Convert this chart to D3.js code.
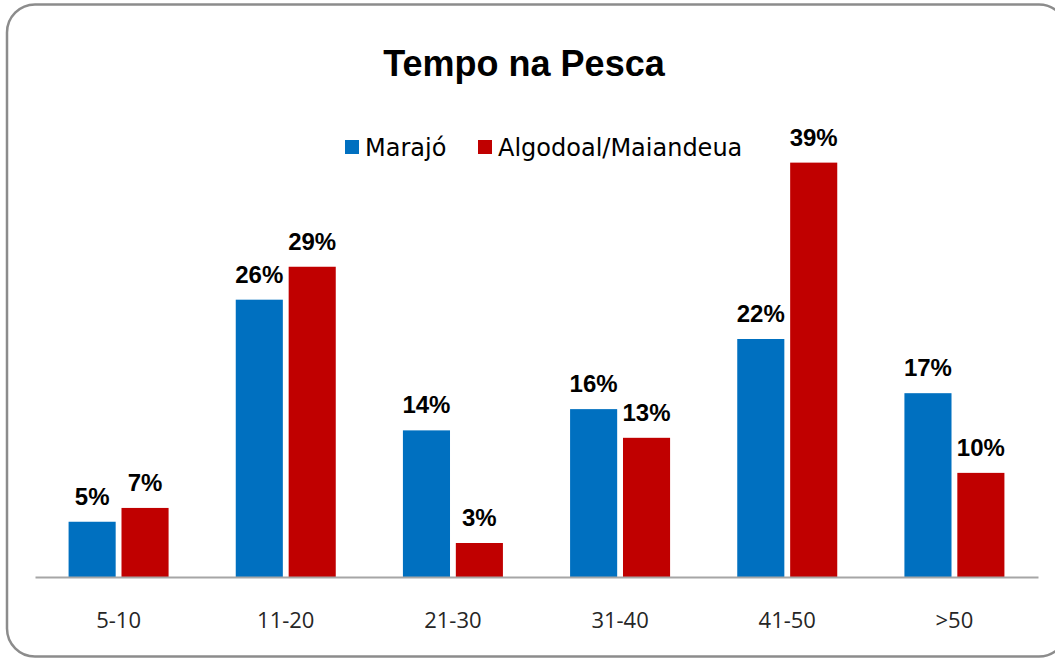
<!DOCTYPE html>
<html>
<head>
<meta charset="utf-8">
<script src="https://cdn.jsdelivr.net/npm/d3@7"></script>
<style>
  body { margin: 0; background: #fff; }
</style>
</head>
<body>
<div id="chart"></div>
<script>
const categories = ["5-10", "11-20", "21-30", "31-40", "41-50", ">50"];
const seriesNames = ["Marajó", "Algodoal/Maiandeua"];
const marajo = [5.2, 26.1, 13.8, 15.8, 22.4, 17.3];
const algodoal = [6.5, 29.2, 3.2, 13.1, 39, 9.8];
const colors = ["#0070C0", "#C00000"];

const width = 1055;
const height = 660;
const margin = { top: 152, right: 17, bottom: 83, left: 35 };
const innerWidth = width - margin.left - margin.right;
const innerHeight = height - margin.top - margin.bottom;

const svg = d3
  .select("#chart")
  .append("svg")
  .attr("width", width)
  .attr("height", height);

// rounded frame
svg
  .append("rect")
  .attr("x", 7)
  .attr("y", 4.5)
  .attr("width", 1060)
  .attr("height", 652)
  .attr("rx", 28)
  .attr("fill", "#fff")
  .attr("stroke", "#8c8c8c")
  .attr("stroke-width", 2.5);

svg
  .append("text")
  .attr("x", 524)
  .attr("y", 76)
  .attr("text-anchor", "middle")
  .attr("font-family", "Liberation Sans, Arial, sans-serif")
  .attr("font-weight", "bold")
  .attr("font-size", 36)
  .text("Tempo na Pesca");

const g = svg
  .append("g")
  .attr("transform", "translate(" + margin.left + "," + margin.top + ")");

const xScale = d3.scaleBand().domain(categories).range([0, innerWidth]);
const xInner = d3
  .scaleBand()
  .domain([0, 1])
  .range([xScale.bandwidth() / 2 - 50, xScale.bandwidth() / 2 + 50])
  .paddingInner(0.11);
const yScale = d3.scaleLinear().domain([0, 40]).range([innerHeight, 0]);

const rows = categories.map(function(c, i) {
  return { cat: c, vals: [marajo[i], algodoal[i]] };
});

const groups = g
  .selectAll(".cat")
  .data(rows)
  .enter()
  .append("g")
  .attr("class", "cat")
  .attr("transform", function(d) {
    return "translate(" + xScale(d.cat) + ",0)";
  });

groups
  .selectAll("rect")
  .data(function(d) {
    return d.vals;
  })
  .enter()
  .append("rect")
  .attr("x", function(d, i) {
    return xInner(i);
  })
  .attr("y", function(d) {
    return yScale(d);
  })
  .attr("width", xInner.bandwidth())
  .attr("height", function(d) {
    return innerHeight - yScale(d);
  })
  .attr("fill", function(d, i) {
    return colors[i];
  });

groups
  .selectAll("text")
  .data(function(d) {
    return d.vals;
  })
  .enter()
  .append("text")
  .attr("x", function(d, i) {
    return xInner(i) + xInner.bandwidth() / 2;
  })
  .attr("y", function(d) {
    return yScale(d) - 17;
  })
  .attr("text-anchor", "middle")
  .attr("font-family", "Liberation Sans, Arial, sans-serif")
  .attr("font-weight", "bold")
  .attr("font-size", 24)
  .text(function(d) {
    return Math.round(d) + "%";
  });

// x axis
const xAxis = d3.axisBottom(xScale).tickSize(0).tickPadding(35);
const xAxisGroup = g
  .append("g")
  .attr("transform", "translate(0," + innerHeight + ")")
  .call(xAxis);
xAxisGroup.select(".domain").attr("stroke", "#a6a6a6").attr("stroke-width", 2);
xAxisGroup
  .selectAll("text")
  .attr("font-family", "Open Sans, sans-serif")
  .attr("font-size", 22)
  .attr("fill", "#262626");

// legend
const legendX = [345, 478];
const legend = svg
  .selectAll(".legend")
  .data(seriesNames)
  .enter()
  .append("g")
  .attr("class", "legend")
  .attr("transform", function(d, i) {
    return "translate(" + legendX[i] + ",140)";
  });
legend
  .append("rect")
  .attr("width", 14)
  .attr("height", 14)
  .attr("fill", function(d, i) {
    return colors[i];
  });
legend
  .append("text")
  .attr("x", 20)
  .attr("y", 16)
  .attr("font-family", "DejaVu Sans, sans-serif")
  .attr("font-size", 24)
  .text(function(d) {
    return d;
  });
</script>
</body>
</html>
